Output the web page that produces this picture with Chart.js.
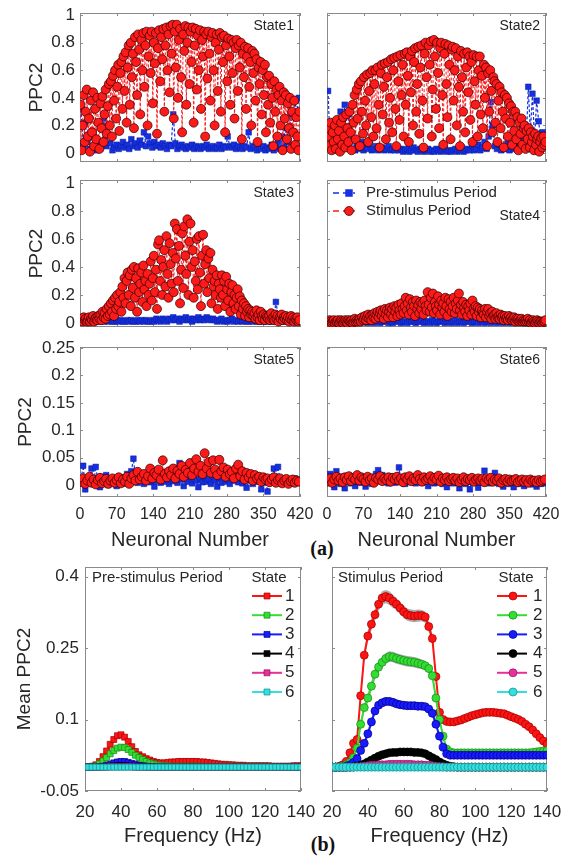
<!DOCTYPE html>
<html>
<head>
<meta charset="utf-8">
<script src="https://cdn.jsdelivr.net/npm/chart.js@4.4.1/dist/chart.umd.min.js"></script>
<style>
body{margin:0;background:#fff;width:573px;height:857px;position:relative;overflow:hidden}
canvas{position:absolute}
.tag{position:absolute;width:40px;text-align:center;font-family:"Liberation Serif","Times New Roman",serif;font-weight:bold;font-size:20px;line-height:20px;color:#111}
</style>
</head>
<body>
<div class="tag" style="left:302px;top:538px">(a)</div>
<div class="tag" style="left:303px;top:834px">(b)</div>
<script>
// ===== Panel (a): PPC2 per neuron =====
// stimulus series of states 1-4 sampled every 2nd neuron, the rest every 4th
const neuronFine = Array.from({length:210},(_,i)=>1+2*i);
const neuronNo = Array.from({length:105},(_,i)=>2+4*i);

const stim1 = [
  0.35,0.02,0.20,0.42,0.08,0.30,0.46,0.12,0.25,0.01,0.38,0.15,0.44,0.05,0.32,
  0.10,0.40,0.22,0.03,0.36,0.18,0.41,0.08,0.28,0.46,0.14,0.34,0.50,0.20,0.52,
  0.12,0.56,0.38,0.60,0.25,0.48,0.64,0.16,0.58,0.66,0.32,0.70,0.45,0.73,0.22,
  0.62,0.78,0.35,0.80,0.55,0.72,0.18,0.84,0.66,0.42,0.86,0.75,0.28,0.82,0.60,
  0.87,0.48,0.78,0.88,0.20,0.70,0.85,0.58,0.88,0.36,0.80,0.65,0.87,0.14,0.76,
  0.89,0.52,0.84,0.68,0.90,0.30,0.78,0.91,0.60,0.86,0.44,0.92,0.72,0.93,0.25,
  0.88,0.62,0.93,0.40,0.82,0.90,0.55,0.15,0.86,0.74,0.92,0.35,0.80,0.91,0.50,
  0.88,0.66,0.91,0.22,0.78,0.90,0.46,0.85,0.60,0.89,0.32,0.82,0.70,0.88,0.12,
  0.86,0.54,0.88,0.72,0.38,0.84,0.87,0.60,0.20,0.80,0.86,0.45,0.75,0.87,0.30,
  0.84,0.66,0.85,0.15,0.78,0.52,0.83,0.70,0.35,0.82,0.58,0.80,0.25,0.76,0.82,
  0.45,0.78,0.62,0.80,0.10,0.72,0.55,0.77,0.32,0.70,0.76,0.48,0.66,0.20,0.74,
  0.58,0.72,0.38,0.68,0.08,0.62,0.50,0.66,0.28,0.60,0.42,0.64,0.15,0.55,0.35,
  0.56,0.22,0.50,0.40,0.05,0.52,0.30,0.46,0.12,0.42,0.48,0.20,0.38,0.02,0.44,
  0.25,0.42,0.10,0.36,0.18,0.40,0.03,0.30,0.15,0.38,0.06,0.26,0.12,0.02,0.30];
const pre1 = [
  0.32,0.05,0.22,0.08,0.03,0.12,0.04,0.02,0.06,0.03,0.08,0.25,0.05,0.20,0.07,
  0.02,0.04,0.06,0.03,0.05,0.08,0.04,0.06,0.03,0.10,0.05,0.07,0.04,0.09,0.06,
  0.15,0.05,0.12,0.07,0.04,0.08,0.05,0.06,0.04,0.07,0.05,0.03,0.06,0.05,0.28,
  0.07,0.03,0.05,0.06,0.04,0.03,0.05,0.04,0.06,0.03,0.05,0.04,0.03,0.05,0.04,
  0.06,0.03,0.04,0.05,0.03,0.04,0.06,0.03,0.05,0.04,0.12,0.05,0.04,0.06,0.03,
  0.05,0.04,0.03,0.05,0.04,0.15,0.03,0.05,0.04,0.02,0.04,0.03,0.05,0.02,0.04,
  0.03,0.06,0.02,0.04,0.08,0.03,0.12,0.05,0.18,0.08,0.28,0.15,0.38,0.30,0.40];

const stim2 = [
  0.18,0.05,0.12,0.22,0.02,0.15,0.08,0.20,0.03,0.24,0.10,0.16,0.01,0.22,0.06,
  0.26,0.12,0.04,0.28,0.18,0.08,0.30,0.15,0.02,0.35,0.22,0.42,0.10,0.46,0.25,
  0.50,0.05,0.52,0.30,0.14,0.55,0.38,0.20,0.57,0.08,0.45,0.58,0.26,0.60,0.12,
  0.50,0.60,0.18,0.62,0.35,0.04,0.58,0.64,0.28,0.48,0.65,0.10,0.55,0.66,0.22,
  0.40,0.68,0.15,0.60,0.69,0.32,0.05,0.70,0.52,0.24,0.71,0.42,0.64,0.12,0.72,
  0.35,0.73,0.56,0.08,0.70,0.44,0.74,0.20,0.66,0.76,0.30,0.50,0.77,0.14,0.62,
  0.78,0.38,0.04,0.72,0.80,0.55,0.25,0.78,0.64,0.81,0.12,0.46,0.82,0.70,0.32,
  0.80,0.58,0.18,0.76,0.80,0.42,0.06,0.72,0.79,0.50,0.26,0.78,0.64,0.10,0.75,
  0.77,0.38,0.60,0.76,0.20,0.70,0.48,0.05,0.74,0.55,0.30,0.72,0.15,0.62,0.73,
  0.44,0.70,0.24,0.66,0.08,0.71,0.52,0.35,0.70,0.12,0.60,0.70,0.28,0.56,0.18,
  0.64,0.40,0.62,0.05,0.58,0.30,0.60,0.45,0.15,0.55,0.52,0.22,0.50,0.08,0.38,
  0.48,0.18,0.44,0.30,0.04,0.42,0.25,0.40,0.12,0.36,0.22,0.34,0.06,0.30,0.16,
  0.30,0.10,0.26,0.02,0.22,0.14,0.25,0.06,0.18,0.20,0.03,0.16,0.10,0.18,0.04,
  0.15,0.08,0.12,0.02,0.14,0.06,0.10,0.12,0.01,0.08,0.11,0.04,0.12,0.06,0.08];
const pre2 = [
  0.45,0.05,0.12,0.03,0.08,0.02,0.30,0.04,0.35,0.06,0.28,0.03,0.10,0.02,0.05,
  0.03,0.08,0.02,0.04,0.03,0.06,0.02,0.03,0.05,0.02,0.03,0.04,0.02,0.03,0.05,
  0.02,0.03,0.02,0.04,0.02,0.03,0.01,0.02,0.03,0.01,0.02,0.04,0.02,0.01,0.03,
  0.02,0.01,0.02,0.03,0.01,0.02,0.01,0.03,0.02,0.01,0.02,0.03,0.01,0.02,0.01,
  0.02,0.03,0.01,0.02,0.04,0.01,0.02,0.03,0.02,0.05,0.02,0.03,0.06,0.02,0.04,
  0.08,0.03,0.12,0.37,0.20,0.05,0.03,0.06,0.02,0.04,0.03,0.07,0.02,0.05,0.03,
  0.08,0.04,0.12,0.05,0.10,0.06,0.48,0.15,0.43,0.10,0.38,0.23,0.08,0.15,0.05];

const stim3 = [
  0.02,0.03,0.01,0.04,0.02,0.03,0.01,0.02,0.04,0.01,0.03,0.02,0.05,0.01,0.03,
  0.04,0.02,0.05,0.03,0.06,0.02,0.08,0.04,0.07,0.03,0.10,0.05,0.12,0.06,0.14,
  0.08,0.16,0.05,0.18,0.10,0.20,0.12,0.15,0.22,0.08,0.26,0.18,0.32,0.14,0.30,
  0.36,0.20,0.34,0.12,0.38,0.25,0.40,0.18,0.32,0.08,0.39,0.22,0.28,0.36,0.15,
  0.41,0.24,0.30,0.12,0.35,0.20,0.28,0.44,0.16,0.32,0.48,0.22,0.38,0.10,0.56,
  0.59,0.30,0.45,0.20,0.40,0.52,0.26,0.62,0.35,0.18,0.57,0.42,0.28,0.50,0.22,
  0.71,0.46,0.67,0.30,0.55,0.14,0.38,0.64,0.25,0.69,0.48,0.35,0.74,0.20,0.58,
  0.71,0.40,0.52,0.18,0.44,0.30,0.60,0.24,0.62,0.36,0.12,0.48,0.63,0.28,0.42,
  0.52,0.22,0.46,0.32,0.50,0.14,0.38,0.26,0.30,0.20,0.34,0.10,0.28,0.24,0.18,
  0.34,0.20,0.30,0.12,0.33,0.24,0.16,0.28,0.08,0.22,0.27,0.14,0.20,0.10,0.18,
  0.24,0.12,0.19,0.06,0.16,0.10,0.14,0.05,0.12,0.08,0.10,0.04,0.09,0.06,0.08,
  0.05,0.07,0.03,0.09,0.04,0.06,0.02,0.08,0.05,0.03,0.06,0.02,0.05,0.04,0.03,
  0.05,0.02,0.07,0.03,0.04,0.02,0.06,0.03,0.05,0.01,0.04,0.03,0.06,0.02,0.04,
  0.03,0.05,0.02,0.04,0.01,0.03,0.05,0.02,0.04,0.01,0.03,0.02,0.04,0.01,0.02];
const pre3 = [
  0.02,0.01,0.03,0.01,0.02,0.04,0.01,0.02,0.01,0.03,0.02,0.01,0.02,0.01,0.02,
  0.01,0.01,0.02,0.01,0.02,0.01,0.01,0.02,0.01,0.02,0.01,0.01,0.02,0.01,0.02,
  0.01,0.02,0.01,0.01,0.02,0.01,0.03,0.02,0.01,0.03,0.02,0.01,0.03,0.02,0.04,
  0.02,0.03,0.01,0.03,0.02,0.04,0.02,0.03,0.01,0.03,0.02,0.04,0.02,0.03,0.02,
  0.04,0.03,0.02,0.03,0.02,0.01,0.02,0.03,0.01,0.02,0.01,0.02,0.03,0.01,0.02,
  0.01,0.02,0.01,0.02,0.01,0.01,0.02,0.01,0.02,0.01,0.01,0.02,0.01,0.03,0.01,
  0.02,0.01,0.02,0.15,0.06,0.02,0.03,0.01,0.02,0.01,0.03,0.01,0.02,0.01,0.02];

const stim4 = [
  0.01,0.00,0.02,0.01,0.00,0.01,0.02,0.00,0.01,0.01,0.02,0.00,0.01,0.02,0.01,
  0.00,0.01,0.02,0.01,0.00,0.02,0.01,0.01,0.02,0.00,0.01,0.03,0.01,0.02,0.01,
  0.02,0.03,0.01,0.04,0.02,0.03,0.05,0.02,0.04,0.06,0.03,0.05,0.02,0.06,0.04,
  0.07,0.03,0.06,0.08,0.04,0.07,0.09,0.05,0.08,0.03,0.10,0.06,0.09,0.04,0.08,
  0.11,0.06,0.10,0.04,0.12,0.08,0.11,0.05,0.13,0.09,0.06,0.14,0.10,0.07,0.12,
  0.18,0.09,0.14,0.06,0.17,0.11,0.08,0.15,0.12,0.05,0.16,0.10,0.13,0.07,0.15,
  0.10,0.14,0.06,0.16,0.12,0.09,0.22,0.13,0.08,0.18,0.11,0.21,0.07,0.15,0.12,
  0.09,0.19,0.13,0.06,0.16,0.11,0.14,0.08,0.18,0.12,0.05,0.17,0.10,0.15,0.08,
  0.12,0.18,0.07,0.14,0.10,0.16,0.21,0.09,0.13,0.06,0.15,0.11,0.08,0.13,0.05,
  0.12,0.09,0.14,0.06,0.16,0.10,0.08,0.12,0.05,0.11,0.08,0.10,0.04,0.09,0.07,
  0.06,0.10,0.04,0.08,0.10,0.05,0.07,0.03,0.08,0.05,0.06,0.03,0.07,0.04,0.05,
  0.03,0.06,0.04,0.05,0.02,0.05,0.03,0.04,0.02,0.05,0.03,0.04,0.02,0.03,0.04,
  0.01,0.03,0.02,0.03,0.01,0.02,0.03,0.01,0.02,0.01,0.02,0.01,0.03,0.01,0.02,
  0.00,0.01,0.02,0.01,0.00,0.01,0.02,0.01,0.00,0.01,0.01,0.00,0.01,0.01,0.02];
const pre4 = [
  0.01,0.02,0.00,0.01,0.02,0.01,0.00,0.02,0.01,0.01,0.02,0.00,0.01,0.01,0.02,
  0.00,0.01,0.01,0.02,0.00,0.01,0.01,0.00,0.02,0.01,0.00,0.01,0.01,0.02,0.00,
  0.01,0.00,0.01,0.02,0.01,0.00,0.01,0.01,0.00,0.02,0.01,0.01,0.00,0.01,0.01,
  0.02,0.00,0.01,0.01,0.00,0.02,0.01,0.00,0.01,0.01,0.02,0.00,0.01,0.01,0.00,
  0.01,0.02,0.00,0.01,0.01,0.00,0.01,0.02,0.01,0.00,0.01,0.01,0.00,0.02,0.01,
  0.00,0.01,0.01,0.00,0.02,0.01,0.00,0.01,0.01,0.00,0.01,0.02,0.00,0.01,0.01,
  0.00,0.01,0.01,0.02,0.00,0.01,0.01,0.00,0.01,0.02,0.00,0.01,0.01,0.00,0.01];

const stim5 = [
  0.005,0.012,0.002,0.008,0.015,0.004,0.010,0.001,0.009,0.013,0.003,0.007,0.011,0.002,0.008,
  0.012,0.004,0.009,0.014,0.003,0.010,0.006,0.015,0.002,0.012,0.018,0.008,0.024,0.010,0.015,
  0.020,0.008,0.016,0.030,0.012,0.022,0.018,0.028,0.010,0.045,0.020,0.014,0.025,0.018,0.030,
  0.012,0.026,0.020,0.035,0.015,0.028,0.022,0.040,0.018,0.030,0.047,0.024,0.035,0.020,0.058,
  0.030,0.042,0.022,0.045,0.028,0.018,0.046,0.025,0.032,0.015,0.028,0.020,0.024,0.012,0.030,
  0.037,0.016,0.025,0.010,0.022,0.014,0.020,0.008,0.018,0.012,0.015,0.006,0.014,0.010,0.012,
  0.005,0.010,0.014,0.004,0.009,0.012,0.003,0.008,0.011,0.002,0.007,0.010,0.004,0.008,0.006];
const pre5 = [
  0.010,0.035,-0.008,0.012,0.005,0.030,0.002,0.033,0.008,-0.004,0.015,0.006,0.018,0.000,0.010,
  0.004,0.012,-0.002,0.008,0.014,0.003,0.010,0.020,0.006,0.025,0.048,0.012,0.004,0.016,0.008,
  0.002,0.010,0.014,0.005,0.012,-0.003,0.008,0.015,0.004,0.011,0.006,0.018,0.002,0.010,0.007,
  0.014,0.004,0.040,0.010,-0.002,0.012,0.006,0.016,0.003,0.010,0.008,-0.004,0.012,0.005,0.014,
  0.006,0.010,0.002,0.015,0.008,-0.003,0.012,0.004,0.018,0.006,0.010,0.002,0.014,0.008,0.024,
  0.005,0.012,0.003,0.010,-0.005,0.008,0.014,0.002,0.010,0.006,0.016,-0.008,0.004,0.012,-0.012,
  0.006,0.010,0.030,0.004,0.033,0.008,0.002,0.012,0.005,0.010,0.003,0.008,0.012,0.004,0.008];

const stim6 = [
  0.006,0.012,0.004,0.010,0.015,0.008,0.012,0.005,0.014,0.009,0.016,0.007,0.013,0.010,0.018,
  0.008,0.014,0.011,0.006,0.015,0.009,0.012,0.004,0.013,0.010,0.016,0.007,0.012,0.009,0.014,
  0.006,0.013,0.010,0.015,0.008,0.012,0.005,0.014,0.010,0.016,0.007,0.012,0.009,0.018,0.011,
  0.006,0.014,0.009,0.012,0.016,0.008,0.013,0.010,0.017,0.006,0.012,0.009,0.014,0.007,0.011,
  0.013,0.008,0.012,0.005,0.010,0.014,0.007,0.011,0.009,0.013,0.006,0.010,0.012,0.008,0.011,
  0.005,0.012,0.009,0.013,0.006,0.010,0.008,0.012,0.004,0.009,0.011,0.006,0.010,0.007,0.009,
  0.011,0.005,0.008,0.010,0.006,0.009,0.004,0.010,0.007,0.008,0.005,0.009,0.006,0.008,0.010];
const pre6 = [
  0.004,0.020,0.012,-0.004,0.025,0.010,0.002,0.015,-0.006,0.008,0.012,0.003,0.010,-0.002,0.006,
  0.012,0.004,0.008,-0.003,0.010,0.014,0.002,0.009,0.020,0.027,0.012,0.018,0.005,0.010,0.003,
  0.008,0.015,0.004,0.010,0.032,0.006,0.012,0.002,0.009,0.014,0.005,0.010,0.003,0.008,0.012,
  0.004,0.010,0.006,-0.002,0.009,0.012,0.003,0.008,0.005,0.010,0.002,0.007,-0.004,0.006,0.009,
  0.003,0.008,0.005,-0.006,0.004,0.009,0.002,0.006,-0.008,0.010,0.004,0.007,-0.005,0.005,0.008,
  0.026,0.006,0.003,0.008,0.004,0.022,0.007,0.002,0.006,-0.003,0.005,0.008,0.002,0.006,-0.004,
  0.004,0.007,0.002,0.005,-0.002,0.006,0.003,0.005,0.001,0.004,-0.003,0.005,0.002,0.004,0.003];

// ===== Panel (b): mean PPC2 vs frequency, 20..140 Hz step 2 =====
const freqHz = Array.from({length:61},(_,i)=>20+2*i);

const meanPre1 = [0,0.001,0.002,0.005,0.012,0.022,0.034,0.048,0.058,0.066,
  0.068,0.063,0.054,0.043,0.033,0.026,0.022,0.018,0.015,0.012,
  0.010,0.009,0.009,0.010,0.011,0.011,0.012,0.012,0.012,0.012,
  0.012,0.012,0.011,0.011,0.010,0.009,0.008,0.007,0.006,0.006,
  0.005,0.005,0.004,0.004,0.004,0.003,0.003,0.003,0.003,0.003,
  0.003,0.003,0.002,0.002,0.002,0.002,0.002,0.002,0.003,0.003,0.003];
const meanPre2 = [0,0,0.001,0.003,0.007,0.013,0.020,0.028,0.035,0.040,
  0.042,0.041,0.037,0.031,0.025,0.020,0.016,0.012,0.009,0.007,
  0.005,0.004,0.003,0.003,0.002,0.002,0.002,0.002,0.002,0.002,
  0.002,0.002,0.002,0.001,0.001,0.001,0.001,0.001,0.001,0.001,
  0.001,0.001,0.001,0.001,0.001,0.001,0.001,0.001,0.001,0.001,
  0.001,0.001,0.001,0.001,0.001,0,0,0,0,0,0];
const meanPre3 = [0,0,0,0,0.001,0.002,0.004,0.006,0.009,0.011,
  0.012,0.012,0.010,0.008,0.006,0.004,0.003,0.002,0.001,0.001,
  0,0,0,0,0,0,0,0,0,0, 0,0,0,0,0,0,0,0,0,0,
  0,0,0,0,0,0,0,0,0,0, 0,0,0,0,0,0,0,0,0,0,0];
const meanPre4 = [0,0,0,0,0,0.001,0.001,0.002,0.002,0.003,
  0.003,0.003,0.002,0.002,0.001,0.001,0.001,0,0,0,
  0,0,0,0,0,0,0,0,0,0, 0,0,0,0,0,0,0,0,0,0,
  0,0,0,0,0,0,0,0,0,0, 0,0,0,0,0,0,0,0,0,0,0];
const meanPre5 = [0,0,0,0,0,0,0,0.001,0.001,0.001,
  0.001,0.001,0.001,0.001,0,0,0,0,0,0,
  0,0,0,0,0,0,0,0,0,0, 0,0,0,0,0,0,0,0,0,0,
  0,0,0,0,0,0,0,0,0,0, 0,0,0,0,0,0,0,0,0,0,0];
const meanPre6 = [0,0,0,0,0,0,0,0,0,0, 0,0,0,0,0,0,0,0,0,0,
  0,0,0,0,0,0,0,0,0,0, 0,0,0,0,0,0,0,0,0,0,
  0,0,0,0,0,0,0,0,0,0, 0,0,0,0,0,0,0,0,0,0,0];

const meanStim1 = [0,0,0.002,0.005,0.012,0.030,0.050,0.058,0.150,0.235,
  0.275,0.300,0.320,0.342,0.355,0.358,0.355,0.348,0.342,0.334,
  0.326,0.320,0.318,0.317,0.318,0.318,0.315,0.295,0.270,0.190,
  0.115,0.100,0.096,0.095,0.095,0.097,0.099,0.102,0.105,0.108,
  0.110,0.112,0.114,0.115,0.115,0.115,0.114,0.113,0.112,0.109,
  0.106,0.103,0.100,0.096,0.090,0.085,0.078,0.070,0.062,0.055,0.048];
const meanStim2 = [0,0,0,0.002,0.005,0.010,0.020,0.040,0.090,0.125,
  0.145,0.170,0.195,0.210,0.220,0.228,0.232,0.231,0.228,0.226,
  0.224,0.222,0.221,0.220,0.218,0.216,0.213,0.207,0.192,0.145,
  0.100,0.065,0.038,0.032,0.030,0.030,0.030,0.030,0.030,0.030,
  0.030,0.030,0.030,0.030,0.030,0.030,0.030,0.030,0.030,0.030,
  0.030,0.030,0.030,0.030,0.030,0.030,0.031,0.032,0.033,0.034,0.035];
const meanStim3 = [0,0,0,0,0.002,0.005,0.010,0.018,0.035,0.050,
  0.070,0.095,0.118,0.130,0.135,0.138,0.138,0.136,0.133,0.131,
  0.130,0.129,0.129,0.129,0.128,0.128,0.127,0.122,0.113,0.090,
  0.065,0.042,0.028,0.025,0.025,0.025,0.025,0.025,0.025,0.025,
  0.025,0.025,0.025,0.025,0.025,0.025,0.025,0.025,0.025,0.025,
  0.025,0.025,0.025,0.025,0.025,0.025,0.025,0.025,0.025,0.025,0.025];
const meanStim4 = [0,0,0,0,0,0,0.001,0.002,0.004,0.007,
  0.011,0.015,0.019,0.023,0.026,0.028,0.030,0.031,0.031,0.032,
  0.032,0.032,0.032,0.031,0.031,0.030,0.028,0.024,0.020,0.016,
  0.011,0.007,0.004,0.002,0.001,0,0,0,0,0,
  0,0,0,0,0,0,0,0,0,0, 0,0,0,0,0,0,0,0,0,0,0];
const meanStim5 = [0,0,0,0,0,0,0,0.001,0.001,0.002,
  0.003,0.004,0.004,0.005,0.005,0.005,0.006,0.006,0.006,0.006,
  0.006,0.006,0.006,0.005,0.005,0.005,0.004,0.004,0.003,0.002,
  0.001,0.001,0,0,0,0,0,0,0,0,
  0,0,0,0,0,0,0,0,0,0, 0,0,0,0,0,0,0,0,0,0,0];
const meanStim6 = [0,0,0,0,0,0,0,0,0,0, 0,0,0,0,0,0,0,0,0,0,
  0,0,0,0,0,0,0,0,0,0, 0,0,0,0,0,0,0,0,0,0,
  0,0,0,0,0,0,0,0,0,0, 0,0,0,0,0,0,0,0,0,0,0];

// shaded s.e.m. in the stimulus period (states 1-4)
const semStim1 = [0.002,0.002,0.002,0.003,0.004,0.005,0.006,0.007,0.009,0.011,
  0.012,0.013,0.013,0.014,0.014,0.014,0.014,0.014,0.013,0.013,
  0.013,0.013,0.013,0.013,0.013,0.012,0.012,0.012,0.011,0.009,
  0.007,0.005,0.005,0.004,0.004,0.004,0.004,0.004,0.004,0.004,
  0.004,0.004,0.004,0.004,0.004,0.004,0.004,0.004,0.004,0.004,
  0.004,0.004,0.004,0.004,0.004,0.004,0.004,0.004,0.004,0.004,0.004];
const semStim2 = [0.001,0.001,0.001,0.002,0.002,0.003,0.004,0.005,0.007,0.008,
  0.010,0.010,0.011,0.011,0.011,0.011,0.011,0.011,0.011,0.011,
  0.011,0.011,0.011,0.011,0.011,0.010,0.010,0.010,0.009,0.008,
  0.006,0.004,0.003,0.003,0.003,0.003,0.003,0.003,0.003,0.003,
  0.003,0.003,0.003,0.003,0.003,0.003,0.003,0.003,0.003,0.003,
  0.003,0.003,0.003,0.003,0.003,0.003,0.003,0.003,0.003,0.003,0.003];
const semStim3 = [0.001,0.001,0.001,0.001,0.002,0.002,0.003,0.004,0.005,0.006,
  0.007,0.008,0.008,0.009,0.009,0.009,0.009,0.009,0.009,0.009,
  0.009,0.009,0.009,0.009,0.009,0.008,0.008,0.008,0.007,0.006,
  0.005,0.003,0.002,0.002,0.002,0.002,0.002,0.002,0.002,0.002,
  0.002,0.002,0.002,0.002,0.002,0.002,0.002,0.002,0.002,0.002,
  0.002,0.002,0.002,0.002,0.002,0.002,0.002,0.002,0.002,0.002,0.002];
const semStim4 = [0,0,0,0,0,0,0.001,0.001,0.002,0.003,
  0.004,0.005,0.005,0.006,0.006,0.006,0.006,0.006,0.006,0.006,
  0.006,0.006,0.006,0.006,0.006,0.006,0.005,0.005,0.004,0.003,
  0.002,0.001,0.001,0,0,0,0,0,0,0,
  0,0,0,0,0,0,0,0,0,0, 0,0,0,0,0,0,0,0,0,0,0];

// ===== Ticks / labels =====
const neuronTicks = [0,70,140,210,280,350,420];
const ppcTicks = [0,0.2,0.4,0.6,0.8,1];
const ppcTicksLow = [0,0.05,0.1,0.15,0.2,0.25];
const freqTicks = [20,40,60,80,100,120,140];
const meanTicks = [-0.05,0.1,0.25,0.4];
const stateNames = ['1','2','3','4','5','6'];
const stateColors = ['#ff1414','#33dd33','#1a1aff','#000000','#e8309a','#33e0e0'];
const stateEdges = ['#a00000','#158a15','#00008c','#000000','#9a0f62','#148a8a'];

const FONT = '"Liberation Sans", Arial, Helvetica, sans-serif';
const TXT = '#262626';
const RED = '#ff1a1a', BLUE = '#1530e0';

function xy(xs, ys){ return ys.map((v,i)=>({x:xs[i], y:v})); }

function marker(ctx, style, x, y, r){
  ctx.beginPath();
  if(style==='rect'){ const s=Math.SQRT1_2*r; ctx.rect(x-s,y-s,2*s,2*s); }
  else ctx.arc(x,y,r,0,Math.PI*2);
  ctx.fill(); if(ctx.lineWidth>0) ctx.stroke();
}

// box, inner ticks, in-axes text and keys (MATLAB look)
function deco(o){
  return {
    id:'deco',
    beforeDatasetsDraw(chart){
      const {ctx, chartArea:a, scales:{x,y}} = chart;
      ctx.save();
      ctx.strokeStyle='#8a8a8a'; ctx.lineWidth=1;
      ctx.beginPath();
      o.xt.forEach(v=>{ const p=Math.round(x.getPixelForValue(v))+0.5;
        ctx.moveTo(p,a.bottom); ctx.lineTo(p,a.bottom-3);
        ctx.moveTo(p,a.top); ctx.lineTo(p,a.top+3); });
      o.yt.forEach(v=>{ const p=Math.round(y.getPixelForValue(v))+0.5;
        ctx.moveTo(a.left,p); ctx.lineTo(a.left+3,p);
        ctx.moveTo(a.right,p); ctx.lineTo(a.right-3,p); });
      ctx.stroke();
      ctx.strokeRect(Math.round(a.left)+0.5, Math.round(a.top)+0.5, Math.round(a.width)-1, Math.round(a.height)-1);
      ctx.restore();
    },
    afterDatasetsDraw(chart){
      const {ctx, chartArea:a} = chart;
      ctx.save();
      ctx.textBaseline='middle';
      (o.notes||[]).forEach(n=>{
        ctx.fillStyle=TXT; ctx.font=n.size+'px '+FONT; ctx.textAlign=n.align||'left';
        ctx.fillText(n.text, (n.align==='right'?a.right:a.left)+n.dx, a.top+n.dy);
      });
      (o.keys||[]).forEach(k=>{
        const y0=a.top+k.dy;
        ctx.strokeStyle=k.color; ctx.lineWidth=k.lw; ctx.setLineDash(k.dash||[]);
        ctx.beginPath(); ctx.moveTo(a.left+k.x1,y0); ctx.lineTo(a.left+k.x2,y0); ctx.stroke();
        ctx.setLineDash([]);
        ctx.fillStyle=k.color; ctx.strokeStyle=k.edge; ctx.lineWidth=k.bw;
        marker(ctx,k.style,a.left+k.mx,y0,k.r);
        ctx.fillStyle=TXT; ctx.font=k.size+'px '+FONT; ctx.textAlign='left';
        ctx.fillText(k.label, a.left+k.tx, y0);
      });
      ctx.restore();
    }
  };
}

function panel(o){
  const [l,t,r,b]=o.box, [pl,pt,pr,pb]=o.pad;
  const w=r-l+pl+pr, h=b-t+pt+pb;
  const c=document.createElement('canvas');
  c.width=w; c.height=h;
  Object.assign(c.style,{left:(l-pl)+'px',top:(t-pt)+'px',width:w+'px',height:h+'px'});
  document.body.appendChild(c);
  const noPad=s=>{s.paddingLeft=0;s.paddingRight=0;s.paddingTop=0;s.paddingBottom=0;};
  return new Chart(c,{
    type:'line',
    data:{datasets:o.datasets},
    options:{
      responsive:false, animation:false, devicePixelRatio:1,
      layout:{padding:{left:0,top:pt,right:pr,bottom:0}},
      plugins:{legend:{display:false}, tooltip:{enabled:false}},
      elements:{line:{tension:0}},
      scales:{
        x:{type:'linear', min:o.xr[0], max:o.xr[1],
          afterBuildTicks:s=>{s.ticks=o.xt.map(v=>({value:v}));},
          afterFit:s=>{s.height=pb; noPad(s);},
          grid:{display:false,drawTicks:false}, border:{display:false},
          ticks:{display:!!o.xlab, autoSkip:false, maxRotation:0, padding:o.xpad||8,
            color:TXT, font:{family:FONT,size:o.xfs||16}, callback:v=>String(v)},
          title:{display:!!o.xtitle, text:o.xtitle, color:TXT, font:{family:FONT,size:20},
            padding:{top:0,bottom:o.xtp||0}}},
        y:{type:'linear', min:o.yr[0], max:o.yr[1],
          afterBuildTicks:s=>{s.ticks=o.yt.map(v=>({value:v}));},
          afterFit:s=>{s.width=pl; noPad(s);},
          grid:{display:false,drawTicks:false}, border:{display:false},
          ticks:{display:!!o.ylab, autoSkip:false, padding:o.ypad||5,
            color:TXT, font:{family:FONT,size:o.yfs||17}, callback:v=>String(v)},
          title:{display:!!o.ytitle, text:o.ytitle, color:TXT, font:{family:FONT,size:19},
            padding:{top:o.ytp||0,bottom:0}}}
      }
    },
    plugins:[deco(o)]
  });
}

// ----- panel (a) -----
function neuronSets(xs, stim, pre){
  return [
    {data:xy(xs,stim), borderColor:RED, borderWidth:1, borderDash:[3,2],
      pointStyle:'circle', pointRadius:4.5, pointBackgroundColor:RED,
      pointBorderColor:'#2a0000', pointBorderWidth:0.7, order:1},
    {data:xy(neuronNo,pre), borderColor:BLUE, borderWidth:1.2, borderDash:[3,2],
      pointStyle:'rect', pointRadius:4, pointBackgroundColor:BLUE,
      pointBorderColor:'#0c1c9a', pointBorderWidth:0.5, order:2}
  ];
}
const stateNote = (k,dy)=>({text:'State'+k, align:'right', dx:-6, dy:dy||13, size:14});

const rowA = [
  {st:1, xs:neuronFine, stim:stim1, pre:pre1, box:[80,13,300,162], yr:[-0.065,1.015], yt:ppcTicks, ytp:25.6},
  {st:2, xs:neuronFine, stim:stim2, pre:pre2, box:[327,13,546,162], yr:[-0.065,1.015], yt:ppcTicks},
  {st:3, xs:neuronFine, stim:stim3, pre:pre3, box:[80,180,300,327], yr:[-0.029,1.021], yt:ppcTicks, ytp:25.6},
  {st:4, xs:neuronFine, stim:stim4, pre:pre4, box:[327,180,546,327], yr:[-0.029,1.021], yt:ppcTicks},
  {st:5, xs:neuronNo, stim:stim5, pre:pre5, box:[80,347,300,497], yr:[-0.022,0.252], yt:ppcTicksLow, ytp:14.6},
  {st:6, xs:neuronNo, stim:stim6, pre:pre6, box:[327,347,546,497], yr:[-0.022,0.252], yt:ppcTicksLow}
];
rowA.forEach(p=>{
  const left = p.box[0]<200, bottom = p.st>=5;
  const o = {
    box:p.box, xr:[0,420], xt:neuronTicks, yr:p.yr, yt:p.yt,
    pad:[left?80:10, 13, bottom?16:6, bottom?61:10],
    ylab:left, ytitle:left?'PPC2':'', ytp:p.ytp,
    xlab:bottom, xtitle:bottom?'Neuronal Number':'', xpad:8.4, xtp:6,
    datasets:neuronSets(p.xs,p.stim,p.pre),
    notes:[stateNote(p.st, p.st===4?36:13)]
  };
  if(p.st===4){
    o.keys=[
      {dy:13, x1:6, x2:28, mx:22, tx:39, color:BLUE, edge:BLUE, style:'rect', r:4.2, bw:0, lw:1.5, dash:[6,4], label:'Pre-stimulus Period', size:15},
      {dy:31, x1:6, x2:28, mx:22, tx:39, color:RED, edge:'#2a0000', style:'circle', r:4.5, bw:0.7, lw:1.5, dash:[6,4], label:'Stimulus Period', size:15}
    ];
  }
  panel(o);
});

// ----- panel (b) -----
const meanPre = [meanPre1,meanPre2,meanPre3,meanPre4,meanPre5,meanPre6];
const meanStim = [meanStim1,meanStim2,meanStim3,meanStim4,meanStim5,meanStim6];
const semStim = [semStim1,semStim2,semStim3,semStim4,null,null];

function freqSets(series, style, r, sems){
  const out=[];
  series.forEach((vals,k)=>{
    const sem = sems && sems[k];
    if(sem){
      out.push({data:xy(freqHz,vals.map((v,i)=>v+sem[i])), borderWidth:0, pointRadius:0,
        fill:'+1', backgroundColor:'rgba(115,115,115,0.6)', order:20});
      out.push({data:xy(freqHz,vals.map((v,i)=>v-sem[i])), borderWidth:0, pointRadius:0,
        fill:false, order:21});
    }
    out.push({data:xy(freqHz,vals), borderColor:stateColors[k], borderWidth:2,
      pointStyle:style, pointRadius:r, pointBackgroundColor:stateColors[k],
      pointBorderColor:stateEdges[k], pointBorderWidth:0.7, order:6-k});
  });
  return out;
}
function stateKeys(style, r, x1, x2, mx, tx){
  return stateNames.map((s,k)=>({dy:29+19.2*k, x1, x2, mx, tx, color:stateColors[k], edge:stateEdges[k],
    style, r, bw:0.7, lw:2, label:s, size:17}));
}

panel({
  box:[85,567,301,791], pad:[85,12,16,66], xr:[20,140], xt:freqTicks, yr:[-0.05,0.42], yt:meanTicks,
  ylab:true, ypad:6, yfs:17, ytitle:'Mean PPC2', ytp:13.6,
  xlab:true, xfs:17, xpad:10.8, xtitle:'Frequency (Hz)', xtp:9,
  datasets:freqSets(meanPre,'rect',4.2,null),
  notes:[{text:'Pre-stimulus Period', dx:7, dy:11, size:15},{text:'State', align:'center', dx:184, dy:11, size:15}],
  keys:stateKeys('rect',4.2,167,197,182,200)
});
panel({
  box:[332,567,547,791], pad:[14,12,16,66], xr:[20,140], xt:freqTicks, yr:[-0.05,0.42], yt:meanTicks,
  ylab:false,
  xlab:true, xfs:17, xpad:10.8, xtitle:'Frequency (Hz)', xtp:9,
  datasets:freqSets(meanStim,'circle',4,semStim),
  notes:[{text:'Stimulus Period', dx:6, dy:11, size:15},{text:'State', align:'center', dx:184, dy:11, size:15}],
  keys:stateKeys('circle',4,165,195,181,201)
});
</script>
</body>
</html>
